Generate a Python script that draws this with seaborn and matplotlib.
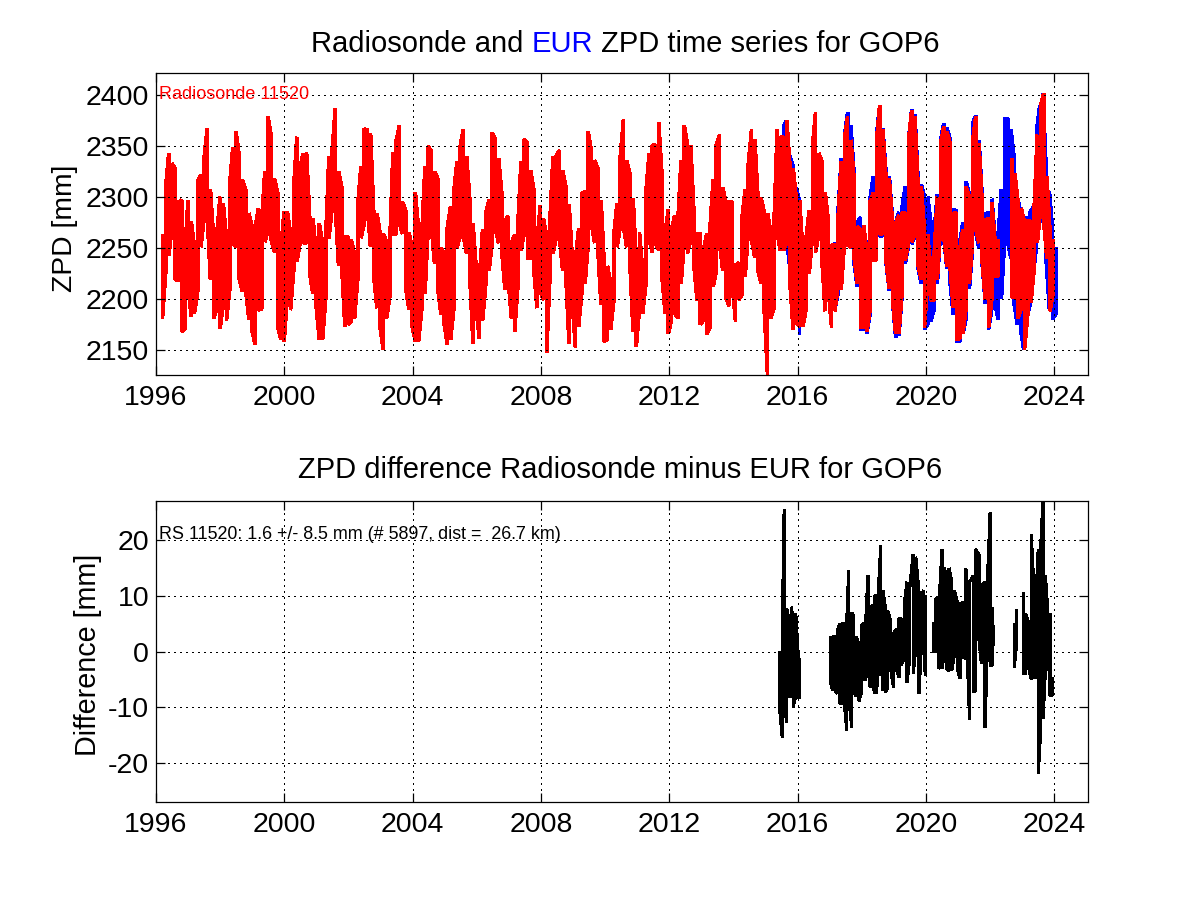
import numpy as np
import pandas as pd
import matplotlib
matplotlib.use("Agg")
import matplotlib.pyplot as plt
import seaborn as sns

# ---- data: upper / lower reach of each ~0.1 yr slice ----
rs_start = 1996.2
rs_step = 0.0998
rs_hi = [
    2263,2309,2343,2333,2328,2295,2297,2245,2297,2276,
    2251,2315,2322,2338,2367,2307,2258,2264,2300,2294,
    2259,2312,2349,2364,2340,2317,2307,2284,2271,2271,
    2289,2277,2325,2379,2359,2318,2304,2248,2286,2286,
    2264,2310,2359,2330,2343,2344,2279,2279,2246,2274,
    2255,2260,2340,2345,2387,2325,2310,2261,2261,2258,
    2243,2291,2330,2367,2366,2362,2284,2284,2264,2264,
    2256,2253,2344,2355,2370,2295,2286,2265,2250,2304,
    2268,2262,2330,2350,2345,2325,2318,2250,2245,2270,
    2291,2305,2335,2350,2366,2340,2297,2274,2230,2220,
    2268,2284,2297,2363,2357,2338,2303,2277,2281,2255,
    2263,2271,2335,2357,2353,2326,2307,2255,2292,2279,
    2261,2275,2340,2340,2346,2326,2310,2293,2240,2238,
    2269,2304,2305,2364,2344,2336,2328,2297,2232,2232,
    2215,2263,2294,2340,2376,2336,2323,2299,2237,2265,
    2227,2304,2343,2351,2351,2373,2322,2264,2288,2268,
    2282,2277,2336,2370,2351,2351,2284,2264,2264,2248,
    2264,2268,2317,2351,2361,2309,2295,2295,2295,2233,
    2235,2279,2307,2333,2366,2357,2299,2299,2284,2284,
    2265,2272,2366,2359,2359,2375,2330,2328,2297,2297,
    2246,2258,2287,2349,2383,2343,2335,2304,2276,2253,
    2253,2277,2335,2356,2379,2356,2318,2271,2268,2272,
    2245,2295,2304,2353,2390,2366,2318,2318,2274,2274,
    2282,2284,2284,2354,2385,2379,2310,2310,2266,2263,
    2228,2241,2300,2351,2369,2364,2353,2284,2284,2248,
    2268,2310,2300,2353,2379,2353,2295,2277,2279,2295,
    2258,2258,
]
rs_lo = [
    2181,2225,2243,2271,2219,2218,2168,2170,2212,2183,
    2186,2207,2251,2279,2281,2219,2181,2191,2171,2194,
    2179,2209,2255,2251,2220,2207,2209,2180,2168,2155,
    2189,2190,2256,2268,2258,2246,2173,2160,2158,2202,
    2189,2228,2237,2255,2255,2255,2225,2205,2193,2160,
    2160,2200,2259,2290,2290,2233,2232,2173,2175,2178,
    2181,2219,2260,2273,2290,2251,2222,2191,2171,2150,
    2181,2202,2264,2264,2274,2264,2210,2190,2173,2158,
    2158,2190,2205,2270,2270,2235,2210,2185,2175,2155,
    2160,2190,2250,2262,2262,2245,2223,2156,2189,2161,
    2179,2215,2228,2255,2268,2255,2246,2209,2219,2181,
    2168,2212,2248,2264,2240,2240,2228,2191,2207,2199,
    2147,2220,2245,2261,2261,2228,2222,2156,2196,2152,
    2173,2207,2215,2255,2273,2255,2248,2194,2158,2160,
    2170,2199,2251,2271,2271,2251,2235,2168,2153,2191,
    2186,2215,2258,2246,2255,2248,2223,2186,2166,2179,
    2186,2181,2215,2258,2245,2258,2233,2198,2175,2179,
    2165,2172,2212,2227,2255,2228,2201,2193,2212,2178,
    2199,2204,2222,2268,2258,2241,2228,2215,2186,2125,
    2181,2191,2264,2248,2248,2255,2215,2170,2176,2173,
    2173,2189,2225,2261,2246,2264,2237,2188,2209,2172,
    2188,2212,2209,2255,2253,2251,2242,2215,2172,2172,
    2168,2189,2238,2238,2264,2264,2238,2210,2201,2166,
    2166,2207,2238,2255,2256,2264,2233,2219,2172,2218,
    2199,2199,2219,2271,2263,2232,2232,2191,2160,2161,
    2166,2191,2215,2255,2269,2255,2238,2199,2172,2199,
    2222,2222,
]
rs_late_start = 2022.67
rs_late_hi = [2338,2323,2295,2289,2275,2277,2276,2286,2361,2389,2402,2320,2264,2258]
rs_late_lo = [2202,2201,2181,2191,2150,2184,2196,2228,2255,2287,2277,2240,2188,2207]

eur_a_start = 2015.46
eur_a_hi = [2359,2370,2375,2340,2330,2309,2295]
eur_a_lo = [2252,2250,2258,2230,2180,2175,2165]
eur_b_start = 2017.16
eur_b_hi = [
    2255,2285,2338,2360,2383,2370,2322,2275,2280,2268,
    2250,2298,2320,2360,2390,2367,2322,2320,2278,2275,
    2285,2290,2310,2356,2386,2381,2315,2312,2300,2300,
    2274,2265,2302,2355,2372,2368,2357,2288,2286,2255,
    2275,2315,2302,2372,2380,2356,2300,2283,2285,2298,
    2262,2262,2307,2377,2377,2366,2338,2300,2285,2280,
    2280,2285,2290,2365,2390,2402,2325,2305,2268,2250,
]
eur_b_lo = [
    2190,2205,2212,2255,2255,2250,2235,2212,2170,2170,
    2166,2186,2240,2240,2262,2262,2235,2208,2198,2162,
    2164,2205,2235,2253,2254,2262,2230,2215,2170,2175,
    2178,2190,2215,2268,2260,2230,2215,2185,2158,2158,
    2166,2181,2210,2250,2265,2250,2235,2195,2170,2190,
    2195,2180,2200,2258,2256,2240,2195,2175,2170,2150,
    2182,2195,2225,2253,2285,2275,2238,2190,2180,2185,
]

diff_years = [
    [2015.45,2015.52,2015.58,2015.66,2015.73,2015.80,2015.86,2015.94,2016.01,2016.04],
    [2017.02,2017.09,2017.17,2017.24,2017.32,2017.39,2017.46,2017.53,2017.59,2017.69,2017.75,2017.82,2017.91,2017.99,
     2018.06,2018.12,2018.19,2018.26,2018.33,2018.39,2018.45,2018.51,2018.59,2018.66,2018.73,2018.80,2018.88,2018.99,
     2019.07,2019.16,2019.22,2019.32,2019.41,2019.49,2019.60,2019.68,2019.78,2019.85,2019.93,2019.98],
    [2020.23,2020.30,2020.38,2020.44,2020.50,2020.57,2020.64,2020.72,2020.80,2020.88,2020.98,2021.06,2021.17,
     2021.24,2021.31,2021.36,2021.47,2021.54,2021.65,2021.73,2021.84,2021.91,2022.00,2022.06,2022.10],
    [2022.75,2022.82],
    [2023.03,2023.10,2023.19,2023.28,2023.35,2023.43,2023.50,2023.57,2023.65,2023.72,2023.77],
    [2023.88,2023.93],
]
diff_hi = [
    [0,3,25.5,7.7,5.6,8,5.6,6.8,0,-1.3],
    [2.7,2.7,2.7,3.8,5,5,5,5,14.5,7,6.2,2.6,1.4,4.7,5,5,13.6,7.7,8.3,10,10,10,19,11,8,7.4,5.9,3.2,4,5.9,5.9,8.3,12.5,11.3,17.5,17,10.7,10,11,10],
    [5.3,9.5,9.5,12,18.3,15,13.6,15,12.5,11,8.7,8.6,8.9,15,9.5,12.5,13.6,18.4,17.5,12,12.5,11.6,25.1,8,2.9],
    [5,7.5],
    [10.7,6.8,5.3,21,12.8,9.5,18.4,18,27.5,13.6,9.5],
    [7,-4.6],
]
diff_lo = [
    [-11,-15.4,-9,-12.7,-8,-8,-10,-8,-8,-8.4],
    [-5.5,-7,-7.2,-7.5,-9.4,-9.4,-9.4,-14.2,-8,-13.7,-7.3,-8,-8.9,-7.3,-5,-5,-2.8,-6.4,-3.7,-7.5,-7.5,-3.7,0,-7,-7.3,-6.7,-2.5,-6.4,-3,-4.6,-2.5,-1.3,-5.5,-1.3,-4,0.5,-7.6,0.5,0.5,-4.3],
    [0,0,-2.8,-3,-3.1,0,-3.1,-3.4,-3.4,-0.7,-3.1,-4.8,-1,-1.3,-4.3,-12.3,-7.3,-7,2.3,-2.2,-13.7,0.5,-2.5,-2.5,1],
    [-2.8,1.1],
    [-4,-4,-2.5,-5,-4.6,-4.6,-21.9,-14.5,-12,-3.4,-3.4],
    [-7.8,-7.8],
]

year_ticks = list(range(1996, 2025, 4))
zpd_ticks = [2150, 2200, 2250, 2300, 2350, 2400]
diff_ticks = [-20, -10, 0, 10, 20]


def weave(years, hi, lo, seg):
    """Walk up and down each slice so that the pen fills it like the dense original."""
    rows = []
    for i, (t, h, l) in enumerate(zip(years, hi, lo)):
        pair = [h, l] if i % 2 == 0 else [l, h]
        for v in pair:
            rows.append((t, v, seg))
    return pd.DataFrame(rows, columns=["year", "value", "seg"])


def grid_years(start, step, n):
    return [start + step * i for i in range(n)]


rs_df = pd.concat([
    weave(grid_years(rs_start, rs_step, len(rs_hi)), rs_hi, rs_lo, 0),
    weave(grid_years(rs_late_start, rs_step, len(rs_late_hi)), rs_late_hi, rs_late_lo, 1),
], ignore_index=True)
eur_df = pd.concat([
    weave(grid_years(eur_a_start, rs_step, len(eur_a_hi)), eur_a_hi, eur_a_lo, 0),
    weave(grid_years(eur_b_start, rs_step, len(eur_b_hi)), eur_b_hi, eur_b_lo, 1),
], ignore_index=True)
diff_df = pd.concat([
    weave(t, h, l, i) for i, (t, h, l) in enumerate(zip(diff_years, diff_hi, diff_lo))
], ignore_index=True)

sns.set_theme(style="ticks", rc={
    "axes.linewidth": 0.9,
    "axes.edgecolor": "black",
    "axes.unicode_minus": False,
    "xtick.direction": "in",
    "ytick.direction": "in",
    "xtick.top": True,
    "ytick.right": True,
    "xtick.major.size": 6.5,
    "ytick.major.size": 6.5,
    "xtick.major.width": 0.9,
    "ytick.major.width": 0.9,
    "xtick.color": "black",
    "ytick.color": "black",
    "text.color": "black",
    "axes.labelcolor": "black",
})
plt.rcParams["font.family"] = ["Liberation Sans", "DejaVu Sans"]

W, H = 1201, 901
fig = plt.figure(figsize=(W / 100, H / 100), dpi=100, facecolor="white")


def box(left, top, right, bottom):
    return [left / W, 1 - bottom / H, (right - left) / W, (bottom - top) / H]


ax1 = fig.add_axes(box(156, 73, 1088, 375))
ax2 = fig.add_axes(box(156, 501, 1088, 802))

line_kw = dict(x="year", y="value", units="seg", estimator=None, sort=False,
               legend=False, antialiased=False, solid_capstyle="butt", solid_joinstyle="bevel")
sns.lineplot(data=eur_df, color="#0000ff", linewidth=2.0, ax=ax1, **line_kw)
sns.lineplot(data=rs_df, color="#ff0000", linewidth=2.0, ax=ax1, **line_kw)
sns.lineplot(data=diff_df, color="black", linewidth=1.6, ax=ax2, **line_kw)

ax1.set_ylim(2125, 2422)
ax1.set_yticks(zpd_ticks)
ax2.set_ylim(-27.1, 27.1)
ax2.set_yticks(diff_ticks)

for ax in (ax1, ax2):
    ax.set_xlim(1996, 2025.05)
    ax.set_xticks(year_ticks)
    ax.tick_params(labelsize=20.5)
    ax.tick_params(axis="x", pad=7.5)
    ax.tick_params(axis="y", pad=5)
    ax.grid(True, color="black", linewidth=0.75, linestyle=(0, (1, 4)), antialiased=False)
    ax.set_axisbelow(False)
    ax.set_xlabel("")
    for s in ax.spines.values():
        s.set_visible(True)

ax1.set_ylabel("ZPD [mm]", fontsize=20.3)
ax2.set_ylabel("Difference [mm]", fontsize=20.7)
ax1.yaxis.set_label_coords(-0.084, 0.487)
ax2.yaxis.set_label_coords(-0.058, 0.49)

ax1.text(1996.09, 2401, "Radiosonde 11520", color="#ff0000", fontsize=13, va="center", ha="left")
ax2.text(1996.09, 21.1, "RS 11520: 1.6 +/- 8.5 mm (# 5897, dist =  26.7 km)", color="black",
         fontsize=12.9, va="center", ha="left")

# title of the upper panel with its blue word
fig.canvas.draw()
renderer = fig.canvas.get_renderer()
parts = [("Radiosonde and ", "black"), ("EUR", "#0000ff"), (" ZPD time series for GOP6", "black")]
title_size = 21
title_y = 1 - 52 / H
texts = [fig.text(0, title_y, s, color=c, fontsize=title_size, ha="left", va="baseline") for s, c in parts]
widths = []
for s, t in zip(parts, texts):
    probe = fig.text(0, 0, s[0].replace(" ", "\u00a0"), fontsize=title_size)
    widths.append(probe.get_window_extent(renderer).width)
    probe.remove()
x = 625 - sum(widths) / 2
for t, w, s in zip(texts, widths, parts):
    t.set_position((x / W, title_y))
    t.set_text(s[0].replace(" ", "\u00a0"))
    x += w

fig.text(620.5 / W, 1 - 478 / H, "ZPD difference Radiosonde minus EUR for GOP6", color="black",
         fontsize=title_size, ha="center", va="baseline")

fig.savefig("out.png", dpi=100, facecolor="white")
